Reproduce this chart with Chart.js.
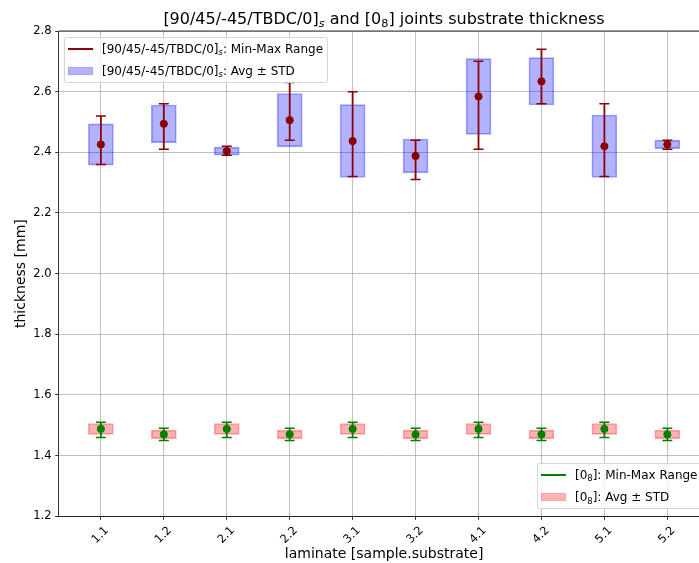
<!DOCTYPE html>
<html>
<head>
<meta charset="utf-8">
<script src="https://cdn.jsdelivr.net/npm/chart.js@4/dist/chart.umd.min.js"></script>
<style>
  html, body { margin: 0; padding: 0; overflow: hidden; background: #fff; }
  #wrap { position: relative; width: 720px; height: 563px; font-family: "DejaVu Sans", sans-serif; color: #000; }
  #chart { position: absolute; left: 0; top: 0; }
  .title { position: absolute; left: 0; width: 768px; top: 11px; text-align: center; font-size: 16px; line-height: 16px; white-space: nowrap; }
  .sub { font-size: 70%; position: relative; top: 0.3em; }
  .it { font-style: italic; }
  .legend { position: absolute; box-sizing: border-box; height: 46px; border: 1px solid rgba(204,204,204,0.8);
            background: rgba(255,255,255,0.8); border-radius: 3px; font-size: 12px; white-space: nowrap; }
  .hline { position: absolute; left: 3px; width: 25px; height: 2px; }
  .patch { position: absolute; left: 3px; width: 25px; height: 8px; box-sizing: border-box; }
  .lbl { position: absolute; left: 37px; height: 16px; line-height: 16px; white-space: nowrap; }
</style>
</head>
<body>
<div id="wrap">
  <canvas id="chart" width="720" height="563"></canvas>
  <div class="title">[90/45/-45/TBDC/0]<span class="sub it">s</span> and [0<span class="sub">8</span>] joints substrate thickness</div>

  <div class="legend" style="left:64px; top:37px; width:264px;">
    <div class="hline" style="top:9.5px; background:#8b0000;"></div>
    <div class="lbl" style="top:2.5px;">[90/45/-45/TBDC/0]<span class="sub it">s</span>: Min-Max Range</div>
    <div class="patch" style="top:28.5px; background:rgba(0,0,255,0.3); border:1px solid rgba(0,0,255,0.08);"></div>
    <div class="lbl" style="top:24.5px;">[90/45/-45/TBDC/0]<span class="sub it">s</span>: Avg ± STD</div>
  </div>

  <div class="legend" style="left:537px; top:463px; width:175px;">
    <div class="hline" style="top:9.5px; background:#008000;"></div>
    <div class="lbl" style="top:2.5px;">[0<span class="sub">8</span>]: Min-Max Range</div>
    <div class="patch" style="top:29px; background:rgba(255,0,0,0.3); border:1px solid rgba(255,0,0,0.08);"></div>
    <div class="lbl" style="top:25px;">[0<span class="sub">8</span>]: Avg ± STD</div>
  </div>
</div>

<script>
// Laminates, labelled sample.substrate
const categories = ['1.1', '1.2', '2.1', '2.2', '3.1', '3.2', '4.1', '4.2', '5.1', '5.2'];

// [90/45/-45/TBDC/0]s substrates, thickness in mm
const quasiAvg = [2.426, 2.494, 2.404, 2.506, 2.437, 2.388, 2.584, 2.634, 2.420, 2.426];
const quasiStd = [0.068, 0.062, 0.013, 0.088, 0.120, 0.056, 0.125, 0.078, 0.103, 0.014];
const quasiMin = [2.36, 2.41, 2.39, 2.44, 2.32, 2.31, 2.41, 2.56, 2.32, 2.41];
const quasiMax = [2.52, 2.56, 2.42, 2.63, 2.60, 2.44, 2.70, 2.74, 2.56, 2.44];

// [0_8] substrates, thickness in mm
const uniAvg = [1.488, 1.470, 1.488, 1.470, 1.488, 1.470, 1.488, 1.470, 1.488, 1.470];
const uniStd = [0.018, 0.014, 0.018, 0.014, 0.018, 0.014, 0.018, 0.014, 0.018, 0.014];
const uniMin = [1.46, 1.45, 1.46, 1.45, 1.46, 1.45, 1.46, 1.45, 1.46, 1.45];
const uniMax = [1.51, 1.49, 1.51, 1.49, 1.51, 1.49, 1.51, 1.49, 1.51, 1.49];

// Thickness axis
const yMin = 1.2, yMax = 2.8, yStep = 0.2;

const positions = categories.map((_, i) => i);
const boxData   = (avg, std) => positions.map(i => ({ x: i, y: [avg[i] - std[i], avg[i] + std[i]] }));
const rangeData = (lo, hi) => positions.flatMap(i => [{ x: i, y: lo[i] }, { x: i, y: hi[i] }, { x: i, y: null }]);
const capData   = (lo, hi) => positions.flatMap(i => [{ x: i, y: lo[i] }, { x: i, y: hi[i] }]);
const meanData  = avg => positions.map(i => ({ x: i, y: avg[i] }));

function errorSeries(avg, std, lo, hi, dark, fill, edge) {
  return [
    { type: 'bar', data: boxData(avg, std), grouped: false, barThickness: 25,
      backgroundColor: fill, borderColor: edge, borderWidth: 1, borderSkipped: false, order: 10 },
    { type: 'line', data: rangeData(lo, hi), borderColor: dark, borderWidth: 1.8,
      pointRadius: 0, spanGaps: false, order: 5 },
    { type: 'scatter', data: capData(lo, hi), pointStyle: 'line', pointRadius: 5,
      borderColor: dark, pointBorderColor: dark, pointBorderWidth: 1.5, order: 3 },
    { type: 'scatter', data: meanData(avg), pointStyle: 'circle', pointRadius: 3.6,
      backgroundColor: dark, borderColor: dark, pointBorderWidth: 1, order: 1 }
  ];
}

// Closes the axes box on the top and right sides
const frame = {
  id: 'frame',
  afterDatasetsDraw(chart) {
    const { ctx, chartArea: a } = chart;
    ctx.save();
    ctx.strokeStyle = '#000';
    ctx.lineWidth = 0.8;
    ctx.beginPath();
    ctx.moveTo(a.left, a.top);
    ctx.lineTo(a.right, a.top);
    ctx.lineTo(a.right, a.bottom);
    ctx.stroke();
    ctx.restore();
  }
};

Chart.defaults.font.family = '"DejaVu Sans", sans-serif';
Chart.defaults.color = '#000';

new Chart(document.getElementById('chart'), {
  type: 'bar',
  data: {
    datasets: [
      ...errorSeries(quasiAvg, quasiStd, quasiMin, quasiMax, '#8b0000', 'rgba(0,0,255,0.3)', 'rgba(0,0,255,0.36)'),
      ...errorSeries(uniAvg, uniStd, uniMin, uniMax, '#008000', 'rgba(255,0,0,0.3)', 'rgba(255,0,0,0.34)')
    ]
  },
  options: {
    responsive: false,
    animation: false,
    events: [],
    layout: { padding: { left: 0, right: 10.5, top: 31, bottom: 0 } },
    plugins: { legend: { display: false }, tooltip: { enabled: false }, title: { display: false } },
    scales: {
      x: {
        type: 'linear',
        min: -0.67, max: 9.67,
        offset: false,
        afterBuildTicks: s => { s.ticks = positions.map(i => ({ value: i })); },
        afterFit: s => { s.height = 46.7; },
        ticks: {
          autoSkip: false, minRotation: 45, maxRotation: 45, padding: 4, labelOffset: 6,
          font: { size: 11.5 },
          callback: v => categories[v] ?? ''
        },
        grid: { offset: false, color: '#b0b0b0', lineWidth: 0.8, tickLength: 3.5, tickColor: '#000', tickWidth: 0.8 },
        border: { color: '#000', width: 0.8 },
        title: { display: true, text: 'laminate [sample.substrate]', font: { size: 14 }, padding: { top: 0, bottom: 0 } }
      },
      y: {
        type: 'linear',
        min: yMin, max: yMax,
        beginAtZero: false,
        afterFit: s => { s.width = 58.7; },
        ticks: { stepSize: yStep, padding: 3.7, font: { size: 11.5 }, callback: v => v.toFixed(1) },
        grid: { color: '#b0b0b0', lineWidth: 0.8, tickLength: 3.5, tickColor: '#000', tickWidth: 0.8 },
        border: { color: '#000', width: 0.8 },
        title: { display: true, text: 'thickness [mm]', font: { size: 14 }, padding: { top: 12.5, bottom: 0 } }
      }
    }
  },
  plugins: [frame]
});
</script>
</body>
</html>
